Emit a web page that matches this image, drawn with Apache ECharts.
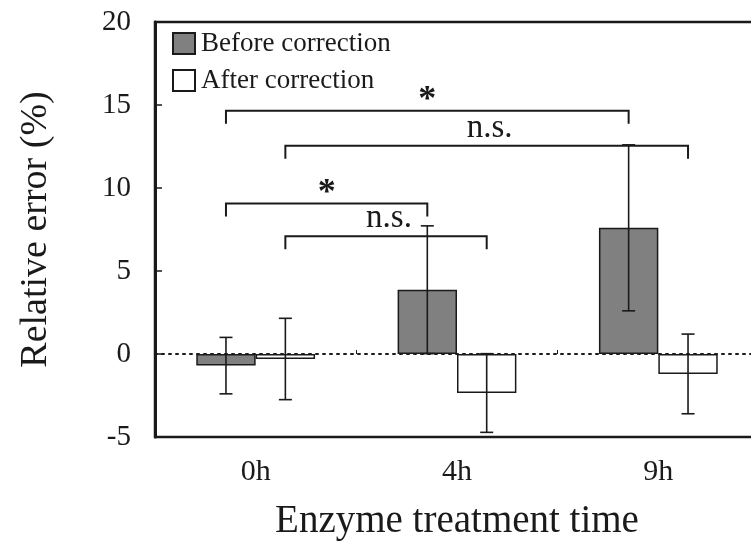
<!DOCTYPE html>
<html>
<head>
<meta charset="utf-8">
<script src="https://cdn.jsdelivr.net/npm/echarts@6/dist/echarts.min.js"></script>
<style>
  html, body { margin: 0; padding: 0; background: #ffffff; }
  #chart { width: 751px; height: 549px; }
</style>
</head>
<body>
<div id="chart"></div>
<script>
// Relative error per enzyme treatment time, mean and standard deviation (%)
const categories = ['0h', '4h', '9h'];
const beforeMean = [-0.7, 3.87, 7.6];
const beforeSD = [1.7, 3.85, 5.0];
const afterMean = [-0.3, -2.35, -1.2];
const afterSD = [2.45, 2.37, 2.4];
const seriesNames = ['Before correction', 'After correction'];

// Significance brackets: group (0 = before, 1 = after), categories joined, height (%), label
const bracketGroup = [0, 1, 0, 1];
const bracketStart = [0, 0, 0, 0];
const bracketEnd = [2, 2, 1, 1];
const bracketLevel = [14.65, 12.55, 9.07, 7.1];
const bracketLabel = ['*', 'n.s.', '*', 'n.s.'];

const FONT = '"Liberation Serif", "Times New Roman", serif';
const INK = '#1a1a1a';
const BAR_FRAC = 0.295; // bar width as a fraction of the category band

function groupOffset(g, band) {
  return (g === 0 ? -1 : 1) * band * BAR_FRAC / 2;
}

const errorData = [];
categories.forEach((c, i) => {
  errorData.push([i, beforeMean[i], beforeSD[i], 0]);
  errorData.push([i, afterMean[i], afterSD[i], 1]);
});

const bracketData = bracketLevel.map((lv, i) => [bracketStart[i], lv, i]);

const chart = echarts.init(document.getElementById('chart'));

chart.setOption({
  backgroundColor: '#ffffff',
  animation: false,
  grid: {
    left: 155, top: 22, width: 604, height: 415,
    containLabel: false,
    outerBoundsMode: 'none',
    show: true, borderColor: INK, borderWidth: 2.5, backgroundColor: 'transparent'
  },
  legend: {
    orient: 'vertical',
    left: 172, top: 30,
    padding: 0,
    itemWidth: 22, itemHeight: 21, itemGap: 10,
    icon: 'rect',
    data: seriesNames,
    textStyle: { fontFamily: FONT, fontSize: 27, color: INK, padding: [0, 0, 0, 1] }
  },
  xAxis: [
    {
      type: 'category',
      data: categories,
      axisLine: { show: false, onZero: false },
      axisTick: { show: false },
      axisLabel: { fontFamily: FONT, fontSize: 30, color: INK, margin: 20 },
      name: 'Enzyme treatment time',
      nameLocation: 'middle',
      nameGap: 65,
      nameTextStyle: { fontFamily: FONT, fontSize: 39, color: INK }
    },
    {
      type: 'category',
      data: categories,
      position: 'bottom',
      z: 10,
      axisLine: { show: true, onZero: true, lineStyle: { color: INK, width: 2, type: [2, 5] } },
      axisTick: { show: true, inside: true, length: 4, lineStyle: { color: INK, width: 1 } },
      axisLabel: { show: false }
    }
  ],
  yAxis: {
    type: 'value',
    min: -5, max: 20, interval: 5,
    axisLine: { show: true, lineStyle: { color: INK, width: 3 } },
    axisTick: { show: true, inside: true, length: 7, lineStyle: { color: INK, width: 1.5 } },
    splitLine: { show: false },
    axisLabel: { fontFamily: FONT, fontSize: 29, color: INK, margin: 24 },
    name: 'Relative error (%)',
    nameLocation: 'middle',
    nameGap: 100,
    nameTextStyle: { fontFamily: FONT, fontSize: 38, color: INK }
  },
  series: [
    {
      name: seriesNames[0],
      type: 'bar',
      data: beforeMean,
      barWidth: (BAR_FRAC * 100) + '%',
      barGap: '0%',
      itemStyle: { color: '#808080', borderColor: INK, borderWidth: 1.5 }
    },
    {
      name: seriesNames[1],
      type: 'bar',
      data: afterMean,
      barWidth: (BAR_FRAC * 100) + '%',
      barGap: '0%',
      itemStyle: { color: '#ffffff', borderColor: INK, borderWidth: 1.5 }
    },
    {
      // error bars (mean ± SD)
      type: 'custom',
      z: 5,
      data: errorData,
      encode: { x: 0, y: 1 },
      renderItem: function (params, api) {
        const cat = api.value(0);
        const m = api.value(1);
        const s = api.value(2);
        const g = api.value(3);
        const band = api.size([1, 0])[0];
        const x = api.coord([cat, 0])[0] + groupOffset(g, band);
        const yTop = api.coord([cat, m + s])[1];
        const yBot = api.coord([cat, m - s])[1];
        const cap = 6.5;
        const st = { stroke: INK, lineWidth: 1.6 };
        return {
          type: 'group',
          children: [
            { type: 'line', shape: { x1: x, y1: yTop, x2: x, y2: yBot }, style: st },
            { type: 'line', shape: { x1: x - cap, y1: yTop, x2: x + cap, y2: yTop }, style: st },
            { type: 'line', shape: { x1: x - cap, y1: yBot, x2: x + cap, y2: yBot }, style: st }
          ]
        };
      }
    },
    {
      // significance brackets
      type: 'custom',
      z: 6,
      data: bracketData,
      encode: { x: 0, y: 1 },
      renderItem: function (params, api) {
        const i = api.value(2);
        const g = bracketGroup[i];
        const band = api.size([1, 0])[0];
        const x1 = api.coord([bracketStart[i], 0])[0] + groupOffset(g, band);
        const x2 = api.coord([bracketEnd[i], 0])[0] + groupOffset(g, band);
        const y = api.coord([0, bracketLevel[i]])[1];
        const drop = 13;
        const isStar = bracketLabel[i] === '*';
        return {
          type: 'group',
          children: [
            {
              type: 'polyline',
              shape: { points: [[x1, y + drop], [x1, y], [x2, y], [x2, y + drop]] },
              style: { stroke: INK, lineWidth: 2, fill: null }
            },
            {
              type: 'text',
              x: (x1 + x2) / 2 + (isStar ? 0 : 3),
              y: isStar ? y + 8 : y - 1,
              style: {
                text: bracketLabel[i],
                font: (isStar ? 'bold 36px ' : '33px ') + FONT,
                fill: INK,
                align: 'center',
                verticalAlign: 'bottom'
              }
            }
          ]
        };
      }
    }
  ]
});
</script>
</body>
</html>
